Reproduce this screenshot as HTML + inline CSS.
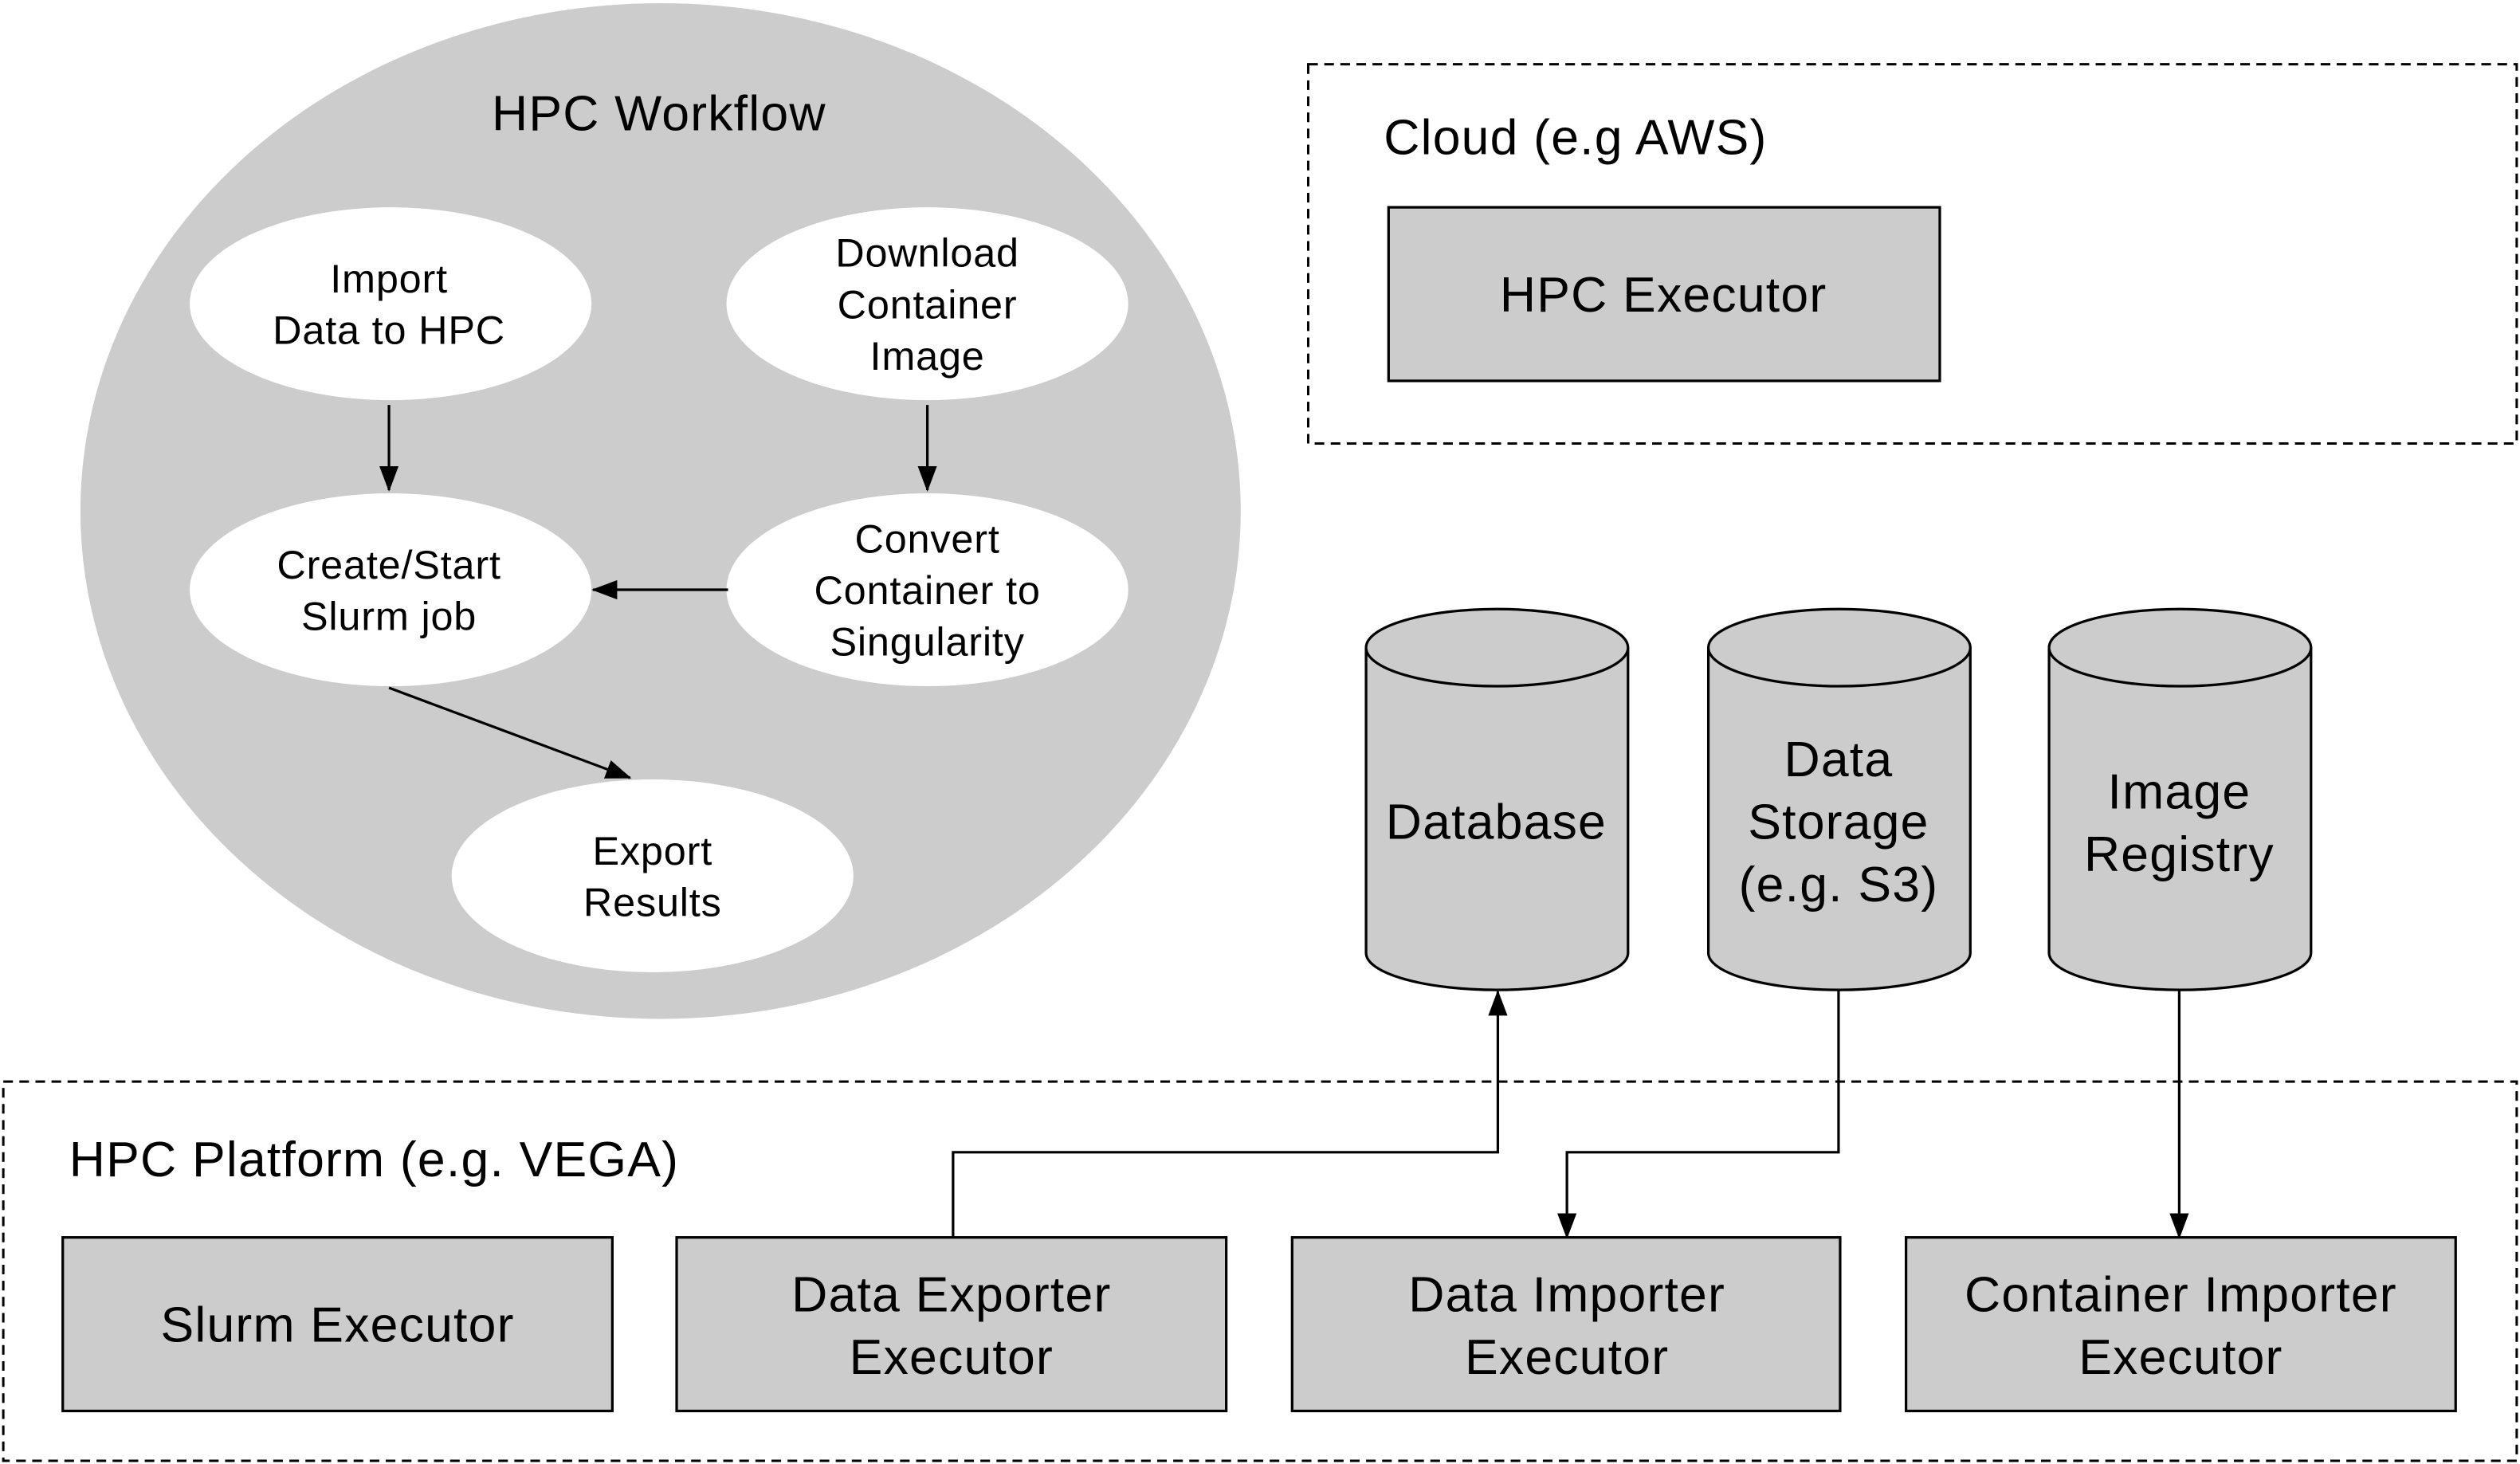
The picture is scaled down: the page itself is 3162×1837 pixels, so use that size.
<!DOCTYPE html>
<html><head><meta charset="utf-8"><style>
html,body{margin:0;padding:0;background:#fff;}
svg{display:block;}
text{font-family:"Liberation Sans",Helvetica,Arial,sans-serif;fill:#000;}
.b{font-size:31px;letter-spacing:0.6px;}
.s{font-size:25px;letter-spacing:0.4px;}
</style></head><body>
<svg width="3162" height="1837" viewBox="0 0 1568 911" xmlns="http://www.w3.org/2000/svg">
<defs>
<marker id="a" markerWidth="16" markerHeight="12" refX="15" refY="6" orient="auto" markerUnits="userSpaceOnUse" viewBox="0 0 16 12">
<path d="M0,0 L16,6 L0,12 Z" fill="#000"/></marker>
</defs>
<rect width="1568" height="911" fill="#fff"/>
<ellipse cx="411" cy="318" rx="361" ry="316" fill="#cccccc"/>
<text x="410" y="81" class="b" text-anchor="middle">HPC Workflow</text>
<g fill="#fff">
<ellipse cx="243" cy="189" rx="125" ry="60"/>
<ellipse cx="577" cy="189" rx="125" ry="60"/>
<ellipse cx="243" cy="367" rx="125" ry="60"/>
<ellipse cx="577" cy="367" rx="125" ry="60"/>
<ellipse cx="406" cy="545" rx="125" ry="60"/>
</g>
<g class="s" text-anchor="middle">
<text x="242" y="182">Import</text><text x="242" y="214">Data to HPC</text>
<text x="577" y="166">Download</text><text x="577" y="198">Container</text><text x="577" y="230">Image</text>
<text x="242" y="360">Create/Start</text><text x="242" y="392">Slurm job</text>
<text x="577" y="344">Convert</text><text x="577" y="376">Container to</text><text x="577" y="408">Singularity</text>
<text x="406" y="538">Export</text><text x="406" y="570">Results</text>
</g>
<g stroke="#000" stroke-width="1.6" fill="none">
<line x1="242" y1="252" x2="242" y2="305" marker-end="url(#a)"/>
<line x1="577" y1="252" x2="577" y2="305" marker-end="url(#a)"/>
<line x1="453" y1="367" x2="369" y2="367" marker-end="url(#a)"/>
<line x1="242" y1="428" x2="392" y2="484" marker-end="url(#a)"/>
</g>
<rect x="814" y="40" width="752" height="236" fill="none" stroke="#000" stroke-width="1.5" stroke-dasharray="6,4"/>
<text x="861" y="96" class="b">Cloud (e.g AWS)</text>
<rect x="864" y="129" width="343" height="108" fill="#cccccc" stroke="#000" stroke-width="1.6"/>
<text x="1035" y="194" class="b" text-anchor="middle">HPC Executor</text>
<g fill="#cccccc" stroke="#000" stroke-width="1.6">
<path d="M850,403 L850,593 A81.5,23 0 0 0 1013,593 L1013,403"/>
<ellipse cx="931.5" cy="403" rx="81.5" ry="24"/>
<path d="M1063,403 L1063,593 A81.5,23 0 0 0 1226,593 L1226,403"/>
<ellipse cx="1144.5" cy="403" rx="81.5" ry="24"/>
<path d="M1275,403 L1275,593 A81.5,23 0 0 0 1438,593 L1438,403"/>
<ellipse cx="1356.5" cy="403" rx="81.5" ry="24"/>
</g>
<g class="b" text-anchor="middle">
<text x="931" y="522">Database</text>
<text x="1144" y="483">Data</text><text x="1144" y="522">Storage</text><text x="1144" y="561">(e.g. S3)</text>
<text x="1356" y="503">Image</text><text x="1356" y="542">Registry</text>
</g>
<rect x="2" y="673" width="1564" height="236" fill="none" stroke="#000" stroke-width="1.5" stroke-dasharray="6,4"/>
<text x="43" y="732" class="b">HPC Platform (e.g. VEGA)</text>
<g fill="#cccccc" stroke="#000" stroke-width="1.6">
<rect x="39" y="770" width="342" height="108"/>
<rect x="421" y="770" width="342" height="108"/>
<rect x="804" y="770" width="341" height="108"/>
<rect x="1186" y="770" width="342" height="108"/>
</g>
<g class="b" text-anchor="middle">
<text x="210" y="835">Slurm Executor</text>
<text x="592" y="816">Data Exporter</text><text x="592" y="855">Executor</text>
<text x="975" y="816">Data Importer</text><text x="975" y="855">Executor</text>
<text x="1357" y="816">Container Importer</text><text x="1357" y="855">Executor</text>
</g>
<g stroke="#000" stroke-width="1.6" fill="none">
<polyline points="593,770 593,717 932,717 932,617" marker-end="url(#a)"/>
<polyline points="1144,616 1144,717 975,717 975,770" marker-end="url(#a)"/>
<line x1="1356" y1="616" x2="1356" y2="770" marker-end="url(#a)"/>
</g>
</svg>
</body></html>
